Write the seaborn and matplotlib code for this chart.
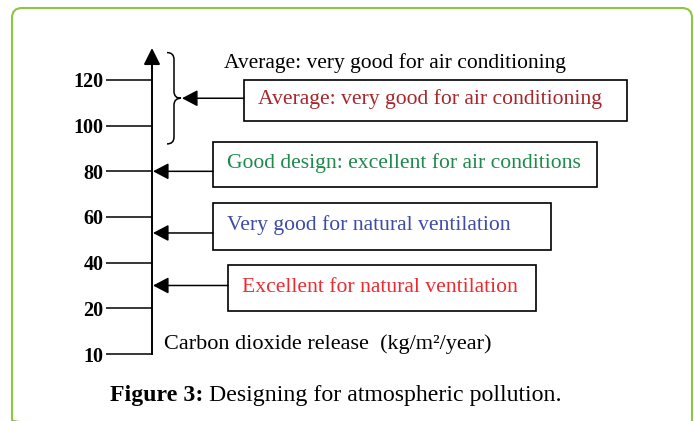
#!/usr/bin/env python3
"""
Purpose: Figure 3 - designing for atmospheric pollution
"""

import numpy as np
import matplotlib
matplotlib.use('Agg')
import matplotlib.pyplot as plt
from matplotlib.patches import Rectangle, FancyBboxPatch, PathPatch
from matplotlib.path import Path
import seaborn as sns

# axis ticks (carbon dioxide release, kg/m2/year), drawn evenly spaced
tick_values = [10, 20, 40, 60, 80, 100, 120]
tick_labels = ['10', '20', '40', '60', '80', '100', '120']

# design classes and the level each arrow points at
class_labels = ['Average: very good for air conditioning',
                'Good design: excellent for air conditions',
                'Very good for natural ventilation',
                'Excellent for natural ventilation']
class_levels = [112, 80, 53, 30]
class_colors = ['#a8262c', '#1e8a4c', '#3d4ca8', '#ee2a30']

# range covered by the brace of the "average" class
average_range = [92, 132]

top_note = 'Average: very good for air conditioning'
axis_title = 'Carbon dioxide release  (kg/m\u00b2/year)'


# --------------------------------------------------
def make_scale(values):
    """Even spacing between ticks, linear outside them"""
    vals = np.array(values, float)
    idx = np.arange(len(vals), dtype=float)

    def forward(v):
        v = np.asarray(v, float)
        out = np.interp(v, vals, idx)
        out = np.where(v < vals[0], (v - vals[0]) / (vals[1] - vals[0]), out)
        out = np.where(v > vals[-1],
                       idx[-1] + (v - vals[-1]) / (vals[-1] - vals[-2]), out)
        return out

    def inverse(i):
        i = np.asarray(i, float)
        out = np.interp(i, idx, vals)
        out = np.where(i < 0, vals[0] + i * (vals[1] - vals[0]), out)
        out = np.where(i > idx[-1],
                       vals[-1] + (i - idx[-1]) * (vals[-1] - vals[-2]), out)
        return out

    return forward, inverse


# --------------------------------------------------
def main():
    """Draw the figure"""

    sns.set_theme(style='white')
    plt.rcParams['font.family'] = ['Liberation Serif', 'DejaVu Serif']

    W, H = 694, 421
    fig = plt.figure(figsize=(W / 100, H / 100), dpi=100, facecolor='white')

    forward, inverse = make_scale(tick_values)

    # main axis: x in pixels, y in kg/m2/year on the evenly spaced scale
    ax = fig.add_axes([0, 0, 1, 1])
    ax.set_xlim(0, W)
    ax.set_yscale('function', functions=(forward, inverse))
    base_px, step_px = 354, 45.67
    ax.set_ylim(float(inverse(-(H - base_px) / step_px)),
                float(inverse(base_px / step_px)))
    ax.patch.set_alpha(0)

    axis_x = 152
    for side in ['top', 'right', 'bottom']:
        ax.spines[side].set_visible(False)
    ax.spines['left'].set_position(('data', axis_x))
    ax.spines['left'].set_bounds(tick_values[0], float(inverse(6.4)))
    ax.spines['left'].set_color('black')
    ax.spines['left'].set_linewidth(1.4)
    ax.set_xticks([])
    ax.set_yticks(tick_values, tick_labels, fontweight='bold', fontsize=14.5)
    ax.tick_params(axis='y', left=True, direction='out', length=33, width=1.1,
                   color='black', labelcolor='black', pad=2)
    ax.yaxis.set_minor_locator(matplotlib.ticker.NullLocator())

    # arrow head on top of the axis
    ax.annotate('', xy=(axis_x, float(inverse(6.7))),
                xytext=(axis_x, float(inverse(6.2))),
                arrowprops=dict(arrowstyle='-|>,head_length=1.0,head_width=0.5',
                                mutation_scale=10, lw=1.4, color='black',
                                shrinkA=0, shrinkB=0))

    # brace over the average range
    i_b, i_t = forward(average_range)
    i_m = (i_b + i_t) / 2
    bx0, bx1, tip = 167, 174, 181
    verts = [(bx0, i_t), (bx1, i_t), (bx1, i_t - 0.15),
             (bx1, i_m + 0.15), (bx1, i_m), (tip, i_m),
             (bx1, i_m), (bx1, i_m - 0.15),
             (bx1, i_b + 0.15), (bx1, i_b), (bx0, i_b)]
    codes = [Path.MOVETO, Path.CURVE3, Path.CURVE3,
             Path.LINETO, Path.CURVE3, Path.CURVE3,
             Path.CURVE3, Path.CURVE3,
             Path.LINETO, Path.CURVE3, Path.CURVE3]
    verts = [(x, float(inverse(y))) for x, y in verts]
    ax.add_patch(PathPatch(Path(verts, codes), fc='none', ec='black', lw=1.1))

    # overlay in pixel coordinates for the boxes and notes
    lay = fig.add_axes([0, 0, 1, 1])
    lay.set_xlim(0, W)
    lay.set_ylim(H, 0)
    lay.axis('off')

    box_rects = [(244, 80, 627, 121), (213, 142, 597, 187),
                 (213, 203, 551, 250), (228, 265, 536, 311)]
    arrow_tips = [tip + 1, axis_x + 1, axis_x + 1, axis_x + 1]
    for label, level, color, rect, tx in zip(class_labels, class_levels,
                                             class_colors, box_rects, arrow_tips):
        x0, y0, x1, y1 = rect
        lay.add_patch(Rectangle((x0, y0), x1 - x0, y1 - y0, fc='none',
                                ec='black', lw=1.2))
        lay.text(x0 + 14, (y0 + y1) / 2 - 1, label, color=color,
                 fontsize=15.6, ha='left', va='center')
        ax.annotate('', xy=(tx, level), xytext=(x0, level),
                    arrowprops=dict(arrowstyle='-|>,head_length=0.95,head_width=0.5',
                                    mutation_scale=10, lw=1.1, color='black',
                                    shrinkA=0, shrinkB=0))

    lay.text(224, 68, top_note, fontsize=15.5, color='black',
             ha='left', va='baseline')
    lay.text(164, 349, axis_title, fontsize=16, color='black',
             ha='left', va='baseline')

    # caption
    cap = lay.text(110, 401, 'Figure 3:', fontsize=17.2, fontweight='bold',
                   color='black', ha='left', va='baseline')
    lay.annotate(' Designing for atmospheric pollution.', xy=(1, 0),
                 xycoords=cap, fontsize=17.2, color='black',
                 ha='left', va='bottom')

    # rounded green frame, running off the bottom edge
    lay.add_patch(FancyBboxPatch((12, 8), 680, 422,
                                 boxstyle='round,pad=0,rounding_size=10',
                                 fc='none', ec='#8dc63f', lw=1.5))

    fig.savefig('out.png', dpi=100, facecolor='white')


# --------------------------------------------------
if __name__ == '__main__':
    main()
